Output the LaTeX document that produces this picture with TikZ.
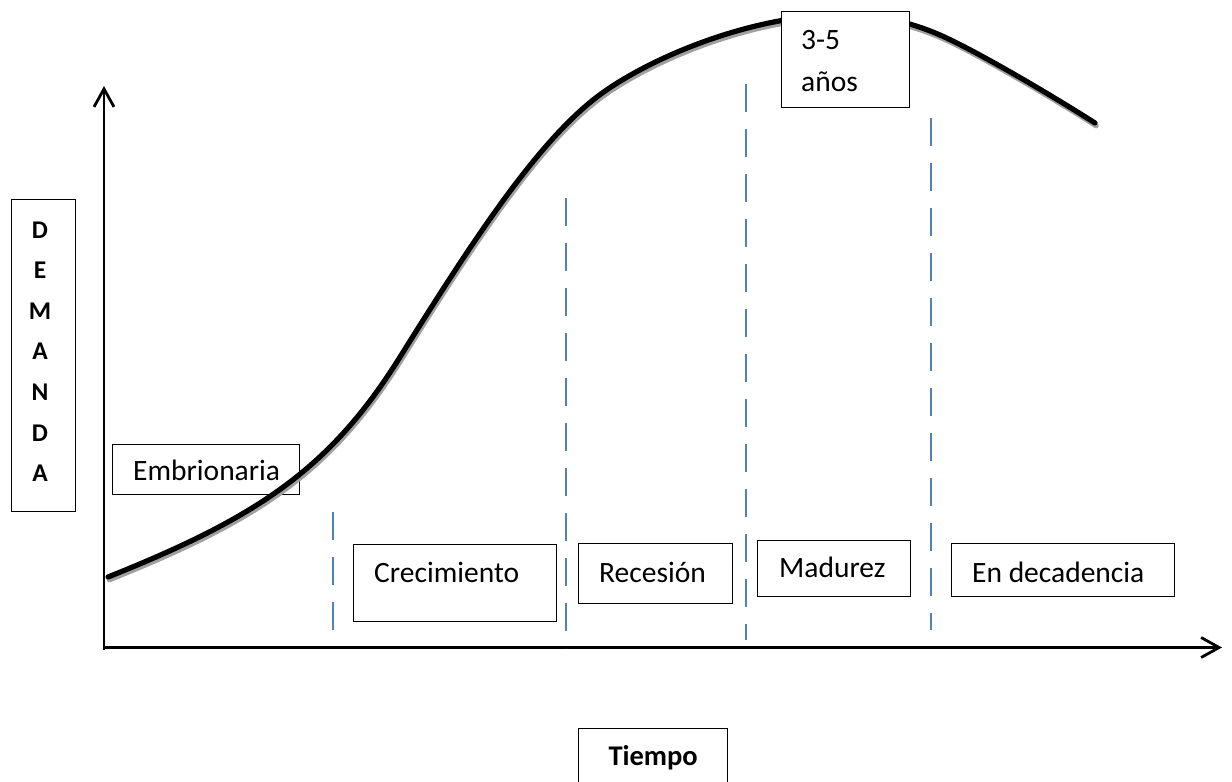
\documentclass[tikz,border=0pt]{standalone}
\usepackage{fontspec}
\setmainfont{Carlito}
\usetikzlibrary{arrows.meta,calc}
\definecolor{dashblue}{RGB}{79,129,189}
\definecolor{shadowgray}{RGB}{160,160,160}
\begin{document}
\begin{tikzpicture}[x=1pt,y=-1pt,
  box/.style={draw=black, line width=1.3pt, rectangle, inner sep=0pt, anchor=north west},
  lbl/.style={font=\fontsize{29.5}{40}\selectfont, inner sep=0pt, anchor=base west},
  boldlbl/.style={font=\fontsize{25.5}{30}\selectfont\bfseries, inner sep=0pt, anchor=base},
  axisline/.style={line width=2.8pt, -{Straight Barb[length=18pt,width=20pt]}},
  divider/.style={draw=dashblue, line width=2pt, dash pattern=on 28pt off 17pt},
  curveline/.style={line width=5.2pt, line cap=round},
]
\clip (0,0) rectangle (1232,782);
\fill[white] (0,0) rectangle (1232,782);

% axes
\coordinate (O) at (104,649.5);
\coordinate (ytip) at (104,86);
\coordinate (xtip) at (1222,647.5);
\coordinate (xstart) at (102.6,647.5);
\draw[axisline] (O) -- (ytip);
\draw[axisline] (xstart) -- (xtip);

% dashed dividers
\coordinate (d1t) at (333,512); \coordinate (d1b) at (333,645);
\coordinate (d2t) at (566,198); \coordinate (d2b) at (566,648);
\coordinate (d3t) at (746,84);  \coordinate (d3b) at (746,640);
\coordinate (d4t) at (931,118); \coordinate (d4b) at (931,630);
\draw[divider] (d1t) -- (d1b);
\draw[divider] (d2t) -- (d2b);
\draw[divider] (d3t) -- (d3b);
\draw[divider] (d4t) -- (d4b);

% vertical label box
\node[box, minimum width=64pt, minimum height=312pt] (dem) at (11,199) {};
\foreach \l [count=\i from 0] in {D,E,M,A,N,D,A}
  \node[boldlbl] (dem\i) at (40,238+40.6*\i) {\l};

% Embrionaria (drawn below the curve)
\node[box, minimum width=187pt, minimum height=50pt] (emb) at (112,444) {};
\node[lbl] (embt) at ($(emb.north west)+(21,36)$) {Embrionaria};

% demand curve with shadow
\def\demandpath{(108,577) .. controls (258,517) and (330,469) .. (400,357)
  .. controls (470,245) and (533,148) .. (593,100)
  .. controls (643,60) and (750,15) .. (840,15)
  .. controls (880,15) and (910,22) .. (940,35)
  .. controls (970,48) and (1040,88) .. (1095,123)}
\draw[curveline, shadowgray, shift={(1.2,2.8)}] \demandpath;
\draw[curveline, black] \demandpath;

% 3-5 anos box
\node[box, fill=white, minimum width=128pt, minimum height=96pt] (anos) at (781,11) {};
\node[lbl] (anos1) at ($(anos.north west)+(20,38)$) {3-5};
\node[lbl] (anos2) at ($(anos.north west)+(20,80)$) {años};

% phase boxes
\node[box, minimum width=203pt, minimum height=77pt] (crec) at (353,544) {};
\node[lbl] (crect) at ($(crec.north west)+(21,38)$) {Crecimiento};

\node[box, minimum width=154pt, minimum height=60pt] (rec) at (578,543) {};
\node[lbl] (rect) at ($(rec.north west)+(21,39)$) {Recesión};

\node[box, minimum width=153pt, minimum height=56pt] (mad) at (757,540) {};
\node[lbl] (madt) at ($(mad.north west)+(22,37)$) {Madurez};

\node[box, minimum width=223pt, minimum height=53pt] (dec) at (951,543) {};
\node[lbl] (dect) at ($(dec.north west)+(21,39)$) {En decadencia};

% Tiempo box (cut by the lower edge)
\node[box, minimum width=149pt, minimum height=90pt] (tiempo) at (578,728) {};
\node[font=\fontsize{28.5}{32}\selectfont\bfseries, inner sep=0pt, anchor=base] (tiempot) at ($(tiempo.north)+(0,37)$) {Tiempo};
\end{tikzpicture}
\end{document}
